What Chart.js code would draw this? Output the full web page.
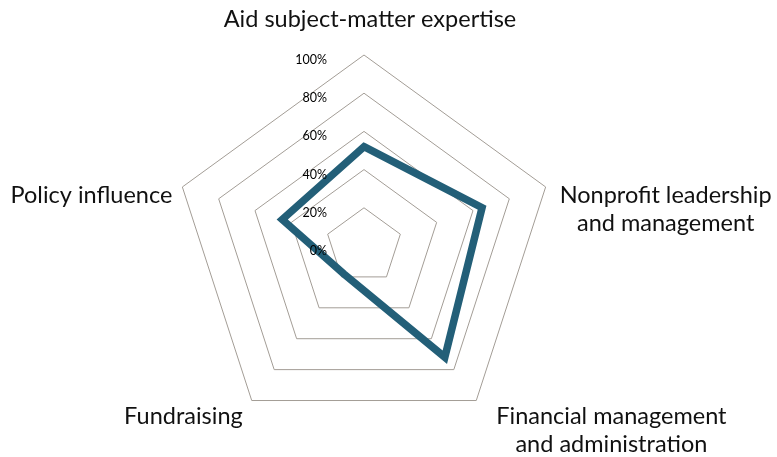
<!DOCTYPE html>
<html>
<head>
<meta charset="utf-8">
<script src="https://cdn.jsdelivr.net/npm/chart.js@4.4.1/dist/chart.umd.min.js"></script>
<style>
  html, body { margin: 0; padding: 0; background: #fff; }
  #wrap { width: 777px; height: 457px; position: relative; }
</style>
</head>
<body>
<div id="wrap"><canvas id="skillsRadar"></canvas></div>
<script>
var categories = [
    "Aid subject-matter expertise",
    ["Nonprofit leadership", "and management"],
    ["Financial management", "and administration"],
    "Fundraising",
    "Policy influence"
];
var scores = [52, 65, 72, 18, 45];
var tickValues = [0, 20, 40, 60, 80, 100];
var tickLabels = ["0%", "20%", "40%", "60%", "80%", "100%"];

// tick labels sit left of the vertical axis, like the original
var sideTicks = {
    id: 'sideTicks',
    afterDatasetsDraw: function (chart) {
        var s = chart.scales.r;
        var ctx = chart.ctx;
        ctx.save();
        ctx.font = "12.5px Lato";
        ctx.fillStyle = "#000";
        ctx.textAlign = "right";
        ctx.textBaseline = "middle";
        tickValues.forEach(function (v, i) {
            var r = s.getDistanceFromCenterForValue(v);
            ctx.fillText(tickLabels[i], s.xCenter - 37, s.yCenter - r + 5);
        });
        ctx.restore();
    }
};

// category labels, lines centred in their block (Excel style)
var outerLabels = {
    id: 'outerLabels',
    afterDraw: function (chart) {
        var s = chart.scales.r;
        var ctx = chart.ctx;
        // offset from each outer vertex: dx, baseline dy, anchor
        var place = [
            [6, -28, 'center'],
            [14, 16, 'left'],
            [20, 23, 'left'],
            [-9, 23, 'right'],
            [-10, 16, 'right']
        ];
        ctx.save();
        ctx.font = "23.5px Lato";
        ctx.fillStyle = "#111";
        ctx.textBaseline = "alphabetic";
        ctx.textAlign = "center";
        chart.data.labels.forEach(function (lab, i) {
            var lines = Array.isArray(lab) ? lab : [lab];
            var p = s.getPointPosition(i, s.drawingArea);
            var w = Math.max.apply(null, lines.map(function (t) { return ctx.measureText(t).width; }));
            var cx = p.x + place[i][0];
            if (place[i][2] === 'left') cx += w / 2;
            if (place[i][2] === 'right') cx -= w / 2;
            lines.forEach(function (t, j) {
                ctx.fillText(t, cx, p.y + place[i][1] + j * 28);
            });
        });
        ctx.restore();
    }
};

var chartElement = document.getElementById("skillsRadar").getContext('2d');
var chartObject = new Chart(chartElement, {
    type: 'radar',
    data: {
        labels: categories,
        datasets: [{
            label: "Skills",
            data: scores,
            borderColor: "#235F78",
            borderWidth: 7.5,
            borderJoinStyle: 'miter',
            backgroundColor: "rgba(0,0,0,0)",
            fill: false,
            pointRadius: 0,
            tension: 0
        }]
    },
    options: {
        responsive: true,
        maintainAspectRatio: false,
        animation: false,
        layout: { padding: { top: 55, bottom: 20, left: 0, right: 48 } },
        plugins: {
            legend: { display: false },
            tooltip: { enabled: false }
        },
        scales: {
            r: {
                min: 0,
                max: 100,
                ticks: { stepSize: 20, display: false },
                grid: { color: "#A39D96", lineWidth: 1 },
                angleLines: { display: false },
                pointLabels: { display: false }
            }
        }
    },
    plugins: [sideTicks, outerLabels]
});
</script>
</body>
</html>
